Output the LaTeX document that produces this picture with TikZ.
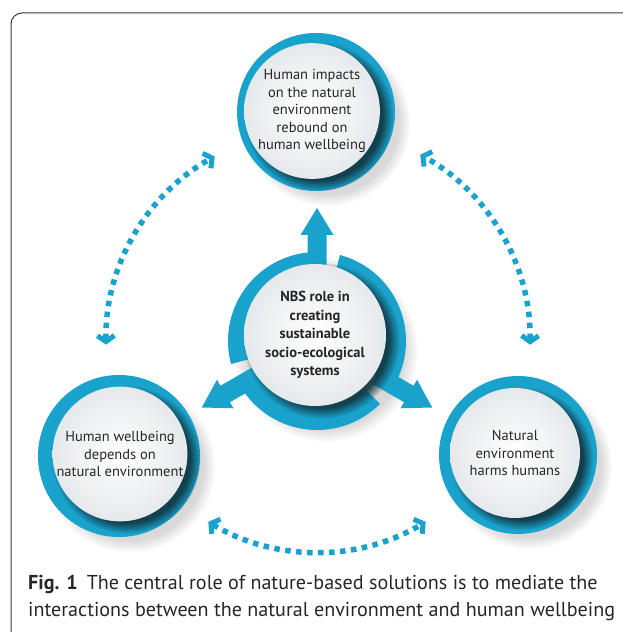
\documentclass[tikz,border=0pt]{standalone}
\usepackage{fontspec}
\setmainfont{PT Sans}
\usetikzlibrary{arrows.meta,shadows,calc}

\definecolor{ringblue}{HTML}{19A2CB}
\definecolor{ringdark}{HTML}{1C5A6E}
\definecolor{discgray}{HTML}{E6E9EC}
\definecolor{inktext}{HTML}{262626}
\definecolor{framegray}{HTML}{3A3A3A}

\tikzset{
  ring/.style={circle, fill=ringblue, inner sep=0pt, minimum size=#1,
    circular drop shadow={shadow xshift=10pt, shadow yshift=-10pt, shadow scale=1.06, opacity=.3}},
  disc/.style={circle, inner color=white, outer color=discgray, inner sep=0pt, minimum size=#1,
    align=center, text=inktext, font=\fontsize{14.5}{17.5}\selectfont,
    circular drop shadow={shadow xshift=6pt, shadow yshift=-5pt, color=ringdark!60!black, opacity=.9}},
  dotlink/.style={draw=ringblue, line width=5.5pt, dash pattern=on 5.5pt off 5.5pt,
    >={Straight Barb[length=6pt 0,width=17pt 0,line width=5pt 0]}, <->},
}

\begin{document}
\begin{tikzpicture}[x=1pt, y=1pt]
  \useasboundingbox (0,0) rectangle (622,632);

  % centre of the hub
  \coordinate (hub) at (317,291);

  % outer rings
  \node[ring=158pt] (impactsring) at (316,520) {};
  \node[ring=162pt] (dependsring) at (119,176) {};
  \node[ring=158pt] (harmsring) at (518,177) {};

  % hub: three arcs, each ending in an arrow
  \path[circular drop shadow={shadow xshift=8pt, shadow yshift=-8pt, shadow scale=1.04, opacity=.3}] (hub) circle[radius=89];
  \foreach \a in {90,210,330}{
    \begin{scope}[shift={(hub)}, rotate=\a]
      \fill[ringblue] (0:89) arc[start angle=0, end angle=105, radius=89]
        -- (105:66) arc[start angle=105, end angle=0, radius=66] -- cycle;
      \fill[ringblue] (70,-9.5) -- (106,-9.5) -- (106,-16.5) -- (133,0)
        -- (106,16.5) -- (106,9.5) -- (70,9.5) -- cycle;
    \end{scope}
  }

  % white discs
  \node[disc=132pt] (impacts) at (312,521) {Human impacts\\on the natural\\environment\\rebound on\\human wellbeing};
  \node[disc=134pt] (depends) at (120,178) {Human wellbeing\\depends on\\natural environment};
  \node[disc=130pt] (harms) at (515,179) {Natural\\environment\\harms humans};
  \node[disc=142pt, font=\bfseries\fontsize{14.5}{18.5}\selectfont] (nbs) at (315,297) {NBS role in\\creating\\sustainable\\socio-ecological\\systems};

  % dotted two-way links
  \draw[dotlink] ([shift={(181:211)}]hub) arc[start angle=181, end angle=119, radius=211];
  \draw[dotlink] ([shift={(239:211)}]hub) arc[start angle=239, end angle=301, radius=211];
  \draw[dotlink] ([shift={(-1:213)}]hub) arc[start angle=-1, end angle=61, radius=213];

  % caption
  \node[anchor=base west, inner sep=0pt, text=inktext, font=\fontsize{20.1}{27}\selectfont] (cap1) at (28,42)
    {\textbf{Fig. 1}\hspace{0.45em}The central role of nature-based solutions is to mediate the};
  \node[anchor=base west, inner sep=0pt, text=inktext, font=\fontsize{20.1}{27}\selectfont] (cap2) at (28,15)
    {interactions between the natural environment and human wellbeing};

  % frame
  \draw[framegray, line width=1pt, rounded corners=11pt] (11,-5) -- (11,619) -- (630,619);
\end{tikzpicture}
\end{document}
